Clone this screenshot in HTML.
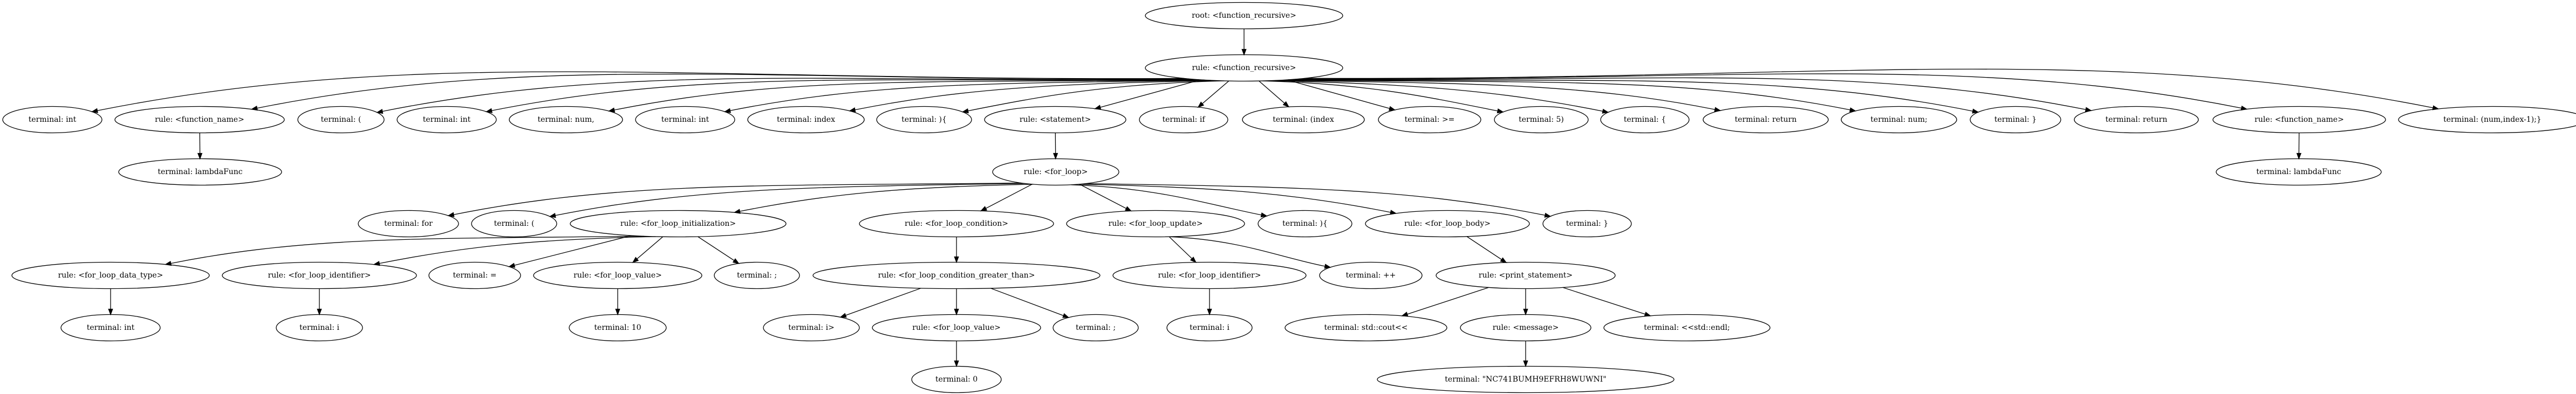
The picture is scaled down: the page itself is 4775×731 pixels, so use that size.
<!DOCTYPE html>
<html><head><meta charset="utf-8"><style>
html,body{margin:0;padding:0;background:#fff;}
svg{display:block;}
text{font-family:"DejaVu Serif","Liberation Serif",serif;font-size:14px;text-anchor:middle;dominant-baseline:central;fill:#000;}
ellipse{fill:none;stroke:#000;stroke-width:1.3;}
</style></head><body>
<svg id="g" width="4775" height="731" viewBox="0 0 4775 731" xmlns="http://www.w3.org/2000/svg">
<g id="edges"></g>
<g id="nodes">
<ellipse cx="2306" cy="29" rx="183" ry="24.5"/><text x="2306" y="29">root: &lt;function_recursive&gt;</text>
<ellipse cx="2306" cy="126" rx="183" ry="24.5"/><text x="2306" y="126">rule: &lt;function_recursive&gt;</text>

<ellipse cx="97" cy="222" rx="92" ry="24.5"/><text x="97" y="222">terminal: int</text>
<ellipse cx="370" cy="222" rx="157" ry="24.5"/><text x="370" y="222">rule: &lt;function_name&gt;</text>
<ellipse cx="632" cy="222" rx="80" ry="24.5"/><text x="632" y="222">terminal: (</text>
<ellipse cx="828" cy="222" rx="92" ry="24.5"/><text x="828" y="222">terminal: int</text>
<ellipse cx="1049" cy="222" rx="105" ry="24.5"/><text x="1049" y="222">terminal: num,</text>
<ellipse cx="1270" cy="222" rx="92" ry="24.5"/><text x="1270" y="222">terminal: int</text>
<ellipse cx="1494" cy="222" rx="108" ry="24.5"/><text x="1494" y="222">terminal: index</text>
<ellipse cx="1713" cy="222" rx="88" ry="24.5"/><text x="1713" y="222">terminal: ){</text>
<ellipse cx="1956" cy="222" rx="131" ry="24.5"/><text x="1956" y="222">rule: &lt;statement&gt;</text>
<ellipse cx="2194" cy="222" rx="82" ry="24.5"/><text x="2194" y="222">terminal: if</text>
<ellipse cx="2416" cy="222" rx="113" ry="24.5"/><text x="2416" y="222">terminal: (index</text>
<ellipse cx="2650" cy="222" rx="95" ry="24.5"/><text x="2650" y="222">terminal: &gt;=</text>
<ellipse cx="2857" cy="222" rx="87" ry="24.5"/><text x="2857" y="222">terminal: 5)</text>
<ellipse cx="3049" cy="222" rx="82" ry="24.5"/><text x="3049" y="222">terminal: {</text>
<ellipse cx="3273" cy="222" rx="116" ry="24.5"/><text x="3273" y="222">terminal: return</text>
<ellipse cx="3520" cy="222" rx="107" ry="24.5"/><text x="3520" y="222">terminal: num;</text>
<ellipse cx="3736" cy="222" rx="84" ry="24.5"/><text x="3736" y="222">terminal: }</text>
<ellipse cx="3960" cy="222" rx="115" ry="24.5"/><text x="3960" y="222">terminal: return</text>
<ellipse cx="4262" cy="222" rx="160" ry="24.5"/><text x="4262" y="222">rule: &lt;function_name&gt;</text>
<ellipse cx="4620" cy="222" rx="174" ry="24.5"/><text x="4620" y="222">terminal: (num,index-1);}</text>

<ellipse cx="371" cy="319" rx="151" ry="24.5"/><text x="371" y="319">terminal: lambdaFunc</text>
<ellipse cx="1957" cy="319" rx="117" ry="24.5"/><text x="1957" y="319">rule: &lt;for_loop&gt;</text>
<ellipse cx="4261" cy="319" rx="153" ry="24.5"/><text x="4261" y="319">terminal: lambdaFunc</text>

<ellipse cx="757" cy="415" rx="93" ry="24.5"/><text x="757" y="415">terminal: for</text>
<ellipse cx="953" cy="415" rx="79" ry="24.5"/><text x="953" y="415">terminal: (</text>
<ellipse cx="1257" cy="415" rx="200" ry="24.5"/><text x="1257" y="415">rule: &lt;for_loop_initialization&gt;</text>
<ellipse cx="1773" cy="415" rx="180" ry="24.5"/><text x="1773" y="415">rule: &lt;for_loop_condition&gt;</text>
<ellipse cx="2142" cy="415" rx="165" ry="24.5"/><text x="2142" y="415">rule: &lt;for_loop_update&gt;</text>
<ellipse cx="2419" cy="415" rx="87" ry="24.5"/><text x="2419" y="415">terminal: ){</text>
<ellipse cx="2683" cy="415" rx="152" ry="24.5"/><text x="2683" y="415">rule: &lt;for_loop_body&gt;</text>
<ellipse cx="2942" cy="415" rx="82" ry="24.5"/><text x="2942" y="415">terminal: }</text>

<ellipse cx="205" cy="511" rx="183" ry="24.5"/><text x="205" y="511">rule: &lt;for_loop_data_type&gt;</text>
<ellipse cx="592" cy="511" rx="180" ry="24.5"/><text x="592" y="511">rule: &lt;for_loop_identifier&gt;</text>
<ellipse cx="880" cy="511" rx="85" ry="24.5"/><text x="880" y="511">terminal: =</text>
<ellipse cx="1145" cy="511" rx="156" ry="24.5"/><text x="1145" y="511">rule: &lt;for_loop_value&gt;</text>
<ellipse cx="1403" cy="511" rx="79" ry="24.5"/><text x="1403" y="511">terminal: ;</text>
<ellipse cx="1773" cy="511" rx="266" ry="24.5"/><text x="1773" y="511">rule: &lt;for_loop_condition_greater_than&gt;</text>
<ellipse cx="2242" cy="511" rx="179" ry="24.5"/><text x="2242" y="511">rule: &lt;for_loop_identifier&gt;</text>
<ellipse cx="2541" cy="511" rx="95" ry="24.5"/><text x="2541" y="511">terminal: ++</text>
<ellipse cx="2828" cy="511" rx="166" ry="24.5"/><text x="2828" y="511">rule: &lt;print_statement&gt;</text>

<ellipse cx="205" cy="608" rx="92" ry="24.5"/><text x="205" y="608">terminal: int</text>
<ellipse cx="592" cy="608" rx="80" ry="24.5"/><text x="592" y="608">terminal: i</text>
<ellipse cx="1145" cy="608" rx="90" ry="24.5"/><text x="1145" y="608">terminal: 10</text>
<ellipse cx="1504" cy="608" rx="89" ry="24.5"/><text x="1504" y="608">terminal: i&gt;</text>
<ellipse cx="1773" cy="608" rx="156" ry="24.5"/><text x="1773" y="608">rule: &lt;for_loop_value&gt;</text>
<ellipse cx="2031" cy="608" rx="79" ry="24.5"/><text x="2031" y="608">terminal: ;</text>
<ellipse cx="2242" cy="608" rx="79" ry="24.5"/><text x="2242" y="608">terminal: i</text>
<ellipse cx="2532" cy="608" rx="150" ry="24.5"/><text x="2532" y="608">terminal: std::cout&lt;&lt;</text>
<ellipse cx="2828" cy="608" rx="121" ry="24.5"/><text x="2828" y="608">rule: &lt;message&gt;</text>
<ellipse cx="3127" cy="608" rx="154" ry="24.5"/><text x="3127" y="608">terminal: &lt;&lt;std::endl;</text>

<ellipse cx="1773" cy="704" rx="83" ry="24.5"/><text x="1773" y="704">terminal: 0</text>
<ellipse cx="2828" cy="704" rx="275" ry="24.5"/><text x="2828" y="704">terminal: "NC741BUMH9EFRH8WUWNI"</text>
</g>
</svg>
<script>
(function(){
var RY=24.5;
var P={R:[2306,29,183],F:[2306,126,183],fn1:[370,222,157],st:[1956,222,131],fn2:[4262,222,160],fl:[1957,319,117],
ini:[1257,415,200],cond:[1773,415,180],upd:[2142,415,165],body:[2683,415,152],
dt:[205,511,183],id1:[592,511,180],val:[1145,511,156],gt:[1773,511,266],id2:[2242,511,179],pr:[2828,511,166],
v2:[1773,608,156],msg:[2828,608,121]};
var E=[
['R',[2306,126,183]],
['F',[97,222,92]],['F',[370,222,157]],['F',[632,222,80]],['F',[828,222,92]],['F',[1049,222,105]],['F',[1270,222,92]],['F',[1494,222,108]],['F',[1713,222,88]],['F',[1956,222,131]],['F',[2194,222,82]],['F',[2416,222,113]],['F',[2650,222,95]],['F',[2857,222,87]],['F',[3049,222,82]],['F',[3273,222,116]],['F',[3520,222,107]],['F',[3736,222,84]],['F',[3960,222,115]],['F',[4262,222,160]],['F',[4620,222,174]],
['fn1',[371,319,151]],['st',[1957,319,117]],['fn2',[4261,319,153]],
['fl',[757,415,93]],['fl',[953,415,79]],['fl',[1257,415,200]],['fl',[1773,415,180]],['fl',[2142,415,165]],['fl',[2419,415,87]],['fl',[2683,415,152]],['fl',[2942,415,82]],
['ini',[205,511,183]],['ini',[592,511,180]],['ini',[880,511,85]],['ini',[1145,511,156]],['ini',[1403,511,79]],
['cond',[1773,511,266]],['upd',[2242,511,179]],['upd',[2541,511,95]],['body',[2828,511,166]],
['dt',[205,608,92]],['id1',[592,608,80]],['val',[1145,608,90]],
['gt',[1504,608,89]],['gt',[1773,608,156]],['gt',[2031,608,79]],['id2',[2242,608,79]],
['pr',[2532,608,150]],['pr',[2828,608,121]],['pr',[3127,608,154]],
['v2',[1773,704,83]],['msg',[2828,704,275]]
];
function onEll(cx,cy,rx,ry,dx,dy){var t=1/Math.sqrt((dx*dx)/(rx*rx)+(dy*dy)/(ry*ry));return [cx+dx*t,cy+dy*t];}
function f(v){return v.toFixed(1);}
var out='';
E.forEach(function(e){
 var p=P[e[0]],c=e[1];
 var dx=c[0]-p[0],dy=c[1]-p[1];
 var S,T,B,ux,uy,path;
 if(Math.abs(dx)<4*Math.abs(dy)){
  // straight line between ellipse boundaries
  S=onEll(p[0],p[1],p[2],RY,dx,dy);
  var L0=Math.hypot(dx,dy);ux=-dx/L0;uy=-dy/L0;
  T=onEll(c[0],c[1],c[2],RY,ux,uy);
  B=[T[0]+ux*10,T[1]+uy*10];
  path='M'+f(S[0])+','+f(S[1])+' L'+f(B[0])+','+f(B[1]);
 } else {
  S=onEll(p[0],p[1],p[2],RY,dx,dy*4);
  var tx=S[0]-c[0],ty=S[1]-c[1];
  if(Math.abs(tx)>5*Math.abs(ty))tx=(tx>0?1:-1)*5*Math.abs(ty);
  var L=Math.sqrt(tx*tx+ty*ty);ux=tx/L;uy=ty/L;
  T=onEll(c[0],c[1],c[2],RY,ux,uy);
  B=[T[0]+ux*10,T[1]+uy*10];
  var d=Math.hypot(B[0]-S[0],B[1]-S[1]);
  var C1=[S[0]+(B[0]-S[0])*0.45,S[1]+(B[1]-S[1])*0.1];
  var C2=[B[0]+ux*d*0.3,B[1]+uy*d*0.3];
  path='M'+f(S[0])+','+f(S[1])+' C'+f(C1[0])+','+f(C1[1])+' '+f(C2[0])+','+f(C2[1])+' '+f(B[0])+','+f(B[1]);
 }
 out+='<path d="'+path+'" fill="none" stroke="#000" stroke-width="1.3"/>';
 var px=-uy*3.7,py=ux*3.7;
 out+='<polygon points="'+f(T[0])+','+f(T[1])+' '+f(B[0]+px)+','+f(B[1]+py)+' '+f(B[0]-px)+','+f(B[1]-py)+'" fill="#000" stroke="#000" stroke-width="1.3"/>';
});
document.getElementById('edges').innerHTML=out;
})();
</script>
</body></html>
